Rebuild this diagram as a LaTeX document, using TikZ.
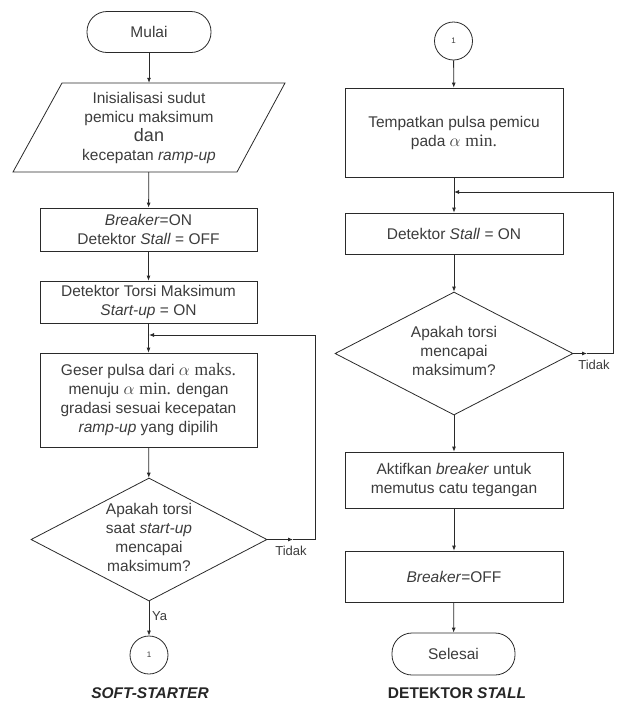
\documentclass[tikz,border=0pt]{standalone}
\usepackage{fontspec}
\setmainfont{Liberation Sans}
\newfontfamily\serifa{Liberation Serif}
\usetikzlibrary{arrows.meta,shapes.geometric}
\definecolor{ink}{HTML}{3C3C3C}
\definecolor{edge}{HTML}{2A2A2A}
\begin{document}
\begin{tikzpicture}[x=1pt,y=-1pt,
  line/.style={draw=edge, line width=0.8pt},
  arr/.style={line, -{Latex[length=5pt,width=4pt]}},
  txt/.style={text=ink, align=center, font=\fontsize{15.5}{19}\selectfont, inner sep=0pt},
  box/.style={txt, draw=edge, line width=0.8pt, rectangle, minimum width=217pt},
  term/.style={txt, draw=edge, line width=0.8pt, rectangle, rounded corners=20pt, minimum width=124pt, minimum height=41pt},
  conn/.style={txt, draw=edge, line width=0.8pt, circle, minimum size=38pt, font=\fontsize{8}{9}\selectfont},
  dec/.style={draw=edge, line width=0.8pt, diamond, inner sep=0pt},
  small/.style={text=ink, font=\fontsize{13}{14}\selectfont, inner sep=0pt},
  title/.style={text=black!85, font=\fontsize{15.5}{18}\selectfont\bfseries, inner sep=0pt}]
\useasboundingbox (0,0) rectangle (618,702);
\newcommand{\grk}[1]{{\fontsize{17.5}{19}\selectfont$\alpha$ {\serifa #1}}}

% ---------- left column: SOFT-STARTER ----------
\node[term] (start) at (149,32) {Mulai};
\draw[line] (62,83) -- (285,83) -- (237,172) -- (13,172) -- cycle;
\node[txt, minimum height=89pt, minimum width=170pt] (init) at (149,127.5)
  {Inisialisasi sudut\\pemicu maksimum\\{\fontsize{18}{19}\selectfont dan}\\kecepatan \textit{ramp-up}};
\node[box, minimum height=43pt] (b1) at (148.5,229.5) {\textit{Breaker}=ON\\Detektor \textit{Stall} = OFF};
\node[box, minimum height=42pt] (b2) at (148.5,302) {Detektor Torsi Maksimum\\\textit{Start-up} = ON};
\node[box, minimum height=94pt] (b3) at (148.5,400)
  {Geser pulsa dari \grk{maks.}\\menuju \grk{min.} dengan\\gradasi sesuai kecepatan\\\textit{ramp-up} yang dipilih};
\node[dec, minimum width=236pt, minimum height=123pt] (d1) at (149,539.5) {};
\node[txt] (d1t) at (149,537) {Apakah torsi\\saat \textit{start-up}\\mencapai\\maksimum?};
\node[conn] (c1) at (149,655) {1};
\node[title] (t1) at (150,693) {\itshape SOFT-STARTER};

\coordinate (j1) at (149,335);
\coordinate (m1) at (293,539.5);
\coordinate (k1) at (315,539.5);
\coordinate (k2) at (315,335);

\draw[arr] (start) -- (init);
\draw[arr] (init) -- (b1);
\draw[arr] (b1) -- (b2);
\draw[arr] (b2) -- (b3);
\draw[arr] (b3) -- (d1);
\draw[arr] (d1) -- (c1);
\draw[arr] (d1.east) -- (m1);
\draw[arr] (m1) -- (k1) -- (k2) -- (j1);
\node[small, anchor=west] (ya) at (152,616) {Ya};
\node[small] (tidak1) at (291,551) {Tidak};

% ---------- right column: DETEKTOR STALL ----------
\node[conn] (c2) at (453.5,41) {1};
\node[box, minimum width=218pt, minimum height=89pt] (r1) at (454,132.5)
  {Tempatkan pulsa pemicu\\pada \grk{min.}};
\node[box, minimum width=218pt, minimum height=41pt] (r2) at (454,233.5) {Detektor \textit{Stall} = ON};
\node[dec, minimum width=238pt, minimum height=123pt] (d2) at (454,353.5) {};
\node[txt] (d2t) at (454,351) {Apakah torsi\\mencapai\\maksimum?};
\node[box, minimum width=218pt, minimum height=56pt] (r3) at (454,480)
  {Aktifkan \textit{breaker} untuk\\memutus catu tegangan};
\node[box, minimum width=218pt, minimum height=51pt] (r4) at (454,576.5) {\textit{Breaker}=OFF};
\node[term, minimum width=123pt, minimum height=42pt] (stop) at (453.5,654) {Selesai};
\node[title] (t2) at (457,693) {DETEKTOR \itshape STALL};

\coordinate (j2) at (454,192);
\coordinate (m2) at (587,353.5);
\coordinate (k3) at (613,353.5);
\coordinate (k4) at (613,192);

\draw[arr] (c2) -- (r1);
\draw[arr] (r1) -- (r2);
\draw[arr] (r2) -- (d2);
\draw[arr] (d2) -- (r3);
\draw[arr] (r3) -- (r4);
\draw[arr] (r4) -- (stop);
\draw[arr] (d2.east) -- (m2);
\draw[arr] (m2) -- (k3) -- (k4) -- (j2);
\node[small] (tidak2) at (594,365) {Tidak};
\end{tikzpicture}
\end{document}
